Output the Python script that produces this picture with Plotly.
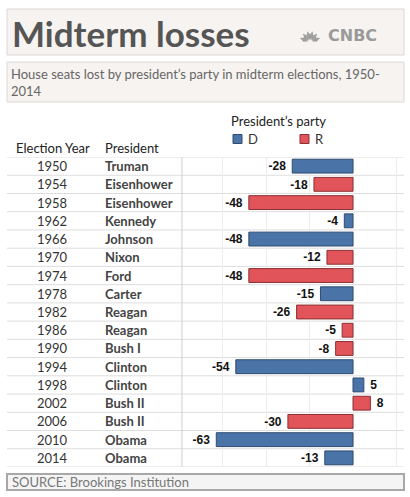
import math
import plotly.graph_objects as go

# ---- data ----
years = [1950, 1954, 1958, 1962, 1966, 1970, 1974, 1978, 1982, 1986,
         1990, 1994, 1998, 2002, 2006, 2010, 2014]
presidents = ["Truman", "Eisenhower", "Eisenhower", "Kennedy", "Johnson", "Nixon",
              "Ford", "Carter", "Reagan", "Reagan", "Bush I", "Clinton", "Clinton",
              "Bush II", "Bush II", "Obama", "Obama"]
parties = ["D", "R", "R", "D", "D", "R", "R", "D", "R", "R",
           "R", "D", "D", "R", "R", "D", "D"]
seats = [-28, -18, -48, -4, -48, -12, -48, -15, -26, -5,
         -8, -54, 5, 8, -30, -63, -13]
party_names = ["D", "R"]
party_colors = {"D": "#4a74a8", "R": "#e0545a"}
party_lines = {"D": "#2e4a70", "R": "#8c3034"}
grid_ticks = [-60, -40, -20, 0, 20]

W, H = 410, 497
FONT = "Lato"

def px(x):
    return x / W

def py(y):
    return 1 - y / H

table_top, table_bot = 157, 467
n = len(years)

def label(v):
    return f"<b>{v}</b>\u00a0" if v < 0 else f"\u00a0<b>{v}</b>"

fig = go.Figure()
idx = list(range(n))
for p in party_names:
    ys = [i for i in idx if parties[i] == p]
    xs = [seats[i] for i in ys]
    fig.add_trace(go.Bar(
        x=xs, y=ys, orientation="h", width=0.76,
        marker=dict(color=party_colors[p], line=dict(color=party_lines[p], width=1)),
        text=[label(v) for v in xs], texttemplate="%{text}", textposition="outside",
        textfont=dict(family="Liberation Sans", size=13, color="#111"),
        cliponaxis=False, showlegend=False, hoverinfo="skip"))

shapes = []
annotations = []

# title box
shapes.append(dict(type="rect", xref="paper", yref="paper", x0=px(7), x1=px(404),
                   y0=py(55), y1=py(9), fillcolor="#f7f3f0",
                   line=dict(color="#dcd8d5", width=1), layer="below"))
annotations.append(dict(text="<b>Midterm losses</b>", xref="paper", yref="paper",
                        x=px(10), y=py(33), xanchor="left", yanchor="middle",
                        showarrow=False, font=dict(family=FONT, size=35, color="#555555")))
annotations.append(dict(text="<b>CNBC</b>", xref="paper", yref="paper",
                        x=px(379), y=py(35), xanchor="right", yanchor="middle",
                        showarrow=False, font=dict(family="DejaVu Sans", size=16, color="#9a9a9a")))
# peacock-like logo petals
cx, cy = 310, 42
for ang in [-68, -40, -13, 13, 40, 68]:
    a = math.radians(ang)
    L, w = 11, 2.3
    dx, dy = math.sin(a), -math.cos(a)
    nx, ny = -dy, dx
    pts = [(cx + dx * 2, cy + dy * 2),
           (cx + dx * L * 0.55 + nx * w, cy + dy * L * 0.55 + ny * w),
           (cx + dx * L, cy + dy * L),
           (cx + dx * L * 0.55 - nx * w, cy + dy * L * 0.55 - ny * w)]
    path = "M " + " L ".join(f"{px(x):.5f},{py(y):.5f}" for x, y in pts) + " Z"
    shapes.append(dict(type="path", xref="paper", yref="paper", path=path,
                       fillcolor="#a0a0a0", line=dict(width=0)))

# subtitle box
shapes.append(dict(type="rect", xref="paper", yref="paper", x0=px(7), x1=px(404),
                   y0=py(102), y1=py(62), fillcolor="#f7f3f0",
                   line=dict(color="#dcd8d5", width=1), layer="below"))
annotations.append(dict(text="House seats lost by president’s party in midterm elections, 1950-<br>2014",
                        xref="paper", yref="paper", x=px(9), y=py(64), xanchor="left",
                        yanchor="top", align="left", showarrow=False,
                        font=dict(family=FONT, size=13, color="#666666")))

# source box
shapes.append(dict(type="rect", xref="paper", yref="paper", x0=px(7), x1=px(404),
                   y0=py(490), y1=py(474), fillcolor="#f4f4f4",
                   line=dict(color="#a8a8a8", width=2), layer="below"))
annotations.append(dict(text="SOURCE: Brookings Institution", xref="paper", yref="paper",
                        x=px(10), y=py(482), xanchor="left", yanchor="middle",
                        showarrow=False, font=dict(family=FONT, size=13, color="#777777")))

# headers
annotations.append(dict(text="Election Year", xref="paper", yref="paper", x=px(14),
                        y=py(148), xanchor="left", yanchor="middle", showarrow=False,
                        font=dict(family=FONT, size=13, color="#222222")))
annotations.append(dict(text="President", xref="paper", yref="paper", x=px(103),
                        y=py(148), xanchor="left", yanchor="middle", showarrow=False,
                        font=dict(family=FONT, size=13, color="#222222")))
annotations.append(dict(text="President’s party", xref="paper", yref="paper", x=px(229),
                        y=py(121), xanchor="left", yanchor="middle", showarrow=False,
                        font=dict(family=FONT, size=13, color="#222222")))

# legend
leg_x = {"D": 233, "R": 300}
for p in party_names:
    x0 = leg_x[p]
    shapes.append(dict(type="rect", xref="paper", yref="paper", x0=px(x0), x1=px(x0 + 9),
                       y0=py(143.5), y1=py(134.5), fillcolor=party_colors[p],
                       line=dict(color=party_lines[p], width=1)))
    annotations.append(dict(text=p, xref="paper", yref="paper", x=px(x0 + 13), y=py(139),
                            xanchor="left", yanchor="middle", showarrow=False,
                            font=dict(family=FONT, size=13, color="#333333")))

# table rows
for i in idx:
    annotations.append(dict(text=str(years[i]), xref="paper", yref="y", x=px(52), y=i,
                            xanchor="center", yanchor="middle", showarrow=False,
                            font=dict(family=FONT, size=13, color="#333333")))
    annotations.append(dict(text="<b>" + presidents[i] + "</b>", xref="paper", yref="y",
                            x=px(103), y=i, xanchor="left", yanchor="middle", showarrow=False,
                            font=dict(family=FONT, size=13, color="#444444")))

for k in range(n + 1):
    shapes.append(dict(type="line", xref="paper", yref="y", x0=px(7), x1=px(404),
                       y0=k - 0.5, y1=k - 0.5, line=dict(color="#dddddd", width=1),
                       layer="below"))
shapes.append(dict(type="line", xref="paper", yref="paper", x0=px(182), x1=px(182),
                   y0=py(table_bot), y1=py(table_top), line=dict(color="#cfcfcf", width=1),
                   layer="below"))

fig.update_layout(
    width=W, height=H, margin=dict(l=0, r=0, t=0, b=0),
    paper_bgcolor="white", plot_bgcolor="white",
    xaxis=dict(domain=[px(182), px(404)], range=[-78.8, 23.5], tickvals=grid_ticks,
               showticklabels=False, showgrid=True, gridcolor="#ececec", gridwidth=1,
               zeroline=False, fixedrange=True),
    yaxis=dict(domain=[py(table_bot), py(table_top)], range=[n - 0.5, -0.5],
               showticklabels=False, showgrid=False, zeroline=False, fixedrange=True),
    shapes=shapes, annotations=annotations, bargap=0.2,
)

fig.write_html("out.html", config={"displayModeBar": False},
               post_script="document.body.style.margin='0';document.body.style.overflow='hidden';")
